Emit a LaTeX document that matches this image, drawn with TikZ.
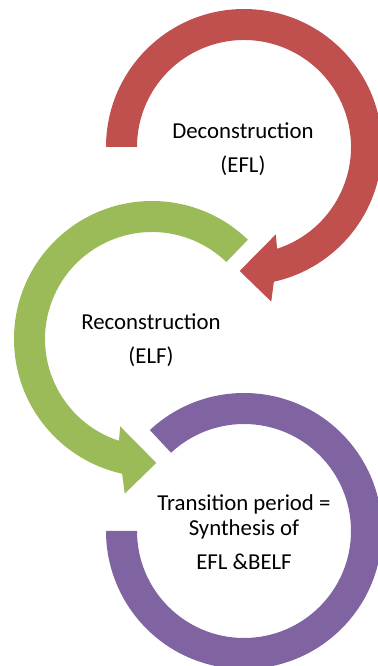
\documentclass[tikz,border=0pt]{standalone}
\usepackage{fontspec}
\setmainfont{Carlito}
\usepackage{tikz}
\definecolor{arcred}{HTML}{C0504D}
\definecolor{arcgreen}{HTML}{9BBB59}
\definecolor{arcpurple}{HTML}{8064A2}

\begin{document}
\begin{tikzpicture}[
    x=0.5pt, y=0.5pt,
    ringtext/.style={align=center, inner sep=0pt, font=\fontsize{11.4}{12.5}\selectfont}
]
    \useasboundingbox (0,0) rectangle (378,666);
    \clip (0,0) rectangle (378,666);

    % Ring centres
    \coordinate (red) at (244,519);
    \coordinate (green) at (152,327);
    \coordinate (purple) at (244,135);

    % Deconstruction arrow
    \fill[arcred, shift={(red)}] (180:138) arc[start angle=180, end angle=-77.5, radius=138]
        -- (-80:157) -- (-92:124) -- (-70:93) -- (-72:107)
        arc[start angle=-72, end angle=180, radius=107] -- cycle;

    % Reconstruction arrow
    \fill[arcgreen, shift={(green)}] (46:138) arc[start angle=46, end angle=257.5, radius=138]
        -- (260:157) -- (272:124) -- (250:93) -- (252:107)
        arc[start angle=252, end angle=46, radius=107] -- cycle;

    % Transition ring
    \fill[arcpurple, shift={(purple)}] (133:138) arc[start angle=133, end angle=-180, radius=138]
        -- (180:107) arc[start angle=-180, end angle=133, radius=107] -- cycle;

    % Texts
    \node[ringtext] (decon) at (243,517) {Deconstruction\\[4.5pt](EFL)};
    \node[ringtext] (recon) at (151,326) {Reconstruction\\[4.5pt](ELF)};
    \node[ringtext] (trans) at (244,134) {Transition period =\\Synthesis of\\[4.5pt]EFL \&BELF};
\end{tikzpicture}
\end{document}
